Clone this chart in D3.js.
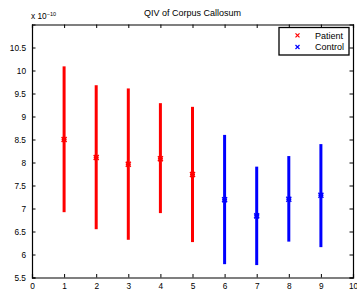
<!DOCTYPE html>
<html>
<head>
<meta charset="utf-8">
<script src="https://cdn.jsdelivr.net/npm/d3@7"></script>
<style>
  body { margin: 0; background: #fff; }
  text { font-family: "Liberation Sans", Arial, sans-serif; }
</style>
</head>
<body>
<div id="chart"></div>
<script>
// values (units of 1e-10)
const patientX = [1, 2, 3, 4, 5];
const patientMean = [8.5, 8.11, 7.96, 8.08, 7.74];
const patientLow = [6.92, 6.55, 6.32, 6.9, 6.27];
const patientHigh = [10.09, 9.68, 9.61, 9.29, 9.21];

const controlX = [6, 7, 8, 9];
const controlMean = [7.19, 6.84, 7.2, 7.29];
const controlLow = [5.79, 5.77, 6.28, 6.16];
const controlHigh = [8.6, 7.91, 8.14, 8.4];

const xTicks = [0, 1, 2, 3, 4, 5, 6, 7, 8, 9, 10];
const yTicks = [5.5, 6, 6.5, 7, 7.5, 8, 8.5, 9, 9.5, 10, 10.5];

const W = 357, H = 294;
const margin = { top: 24.5, right: 4, bottom: 16.5, left: 32 };
const width = W - margin.left - margin.right;
const height = H - margin.top - margin.bottom;

const svg = d3.select('#chart')
    .append('svg')
    .attr('width', W)
    .attr('height', H);

const g = svg.append('g')
    .attr('transform', `translate(${margin.left}, ${margin.top})`);

const xScale = d3.scaleLinear().domain([0, 10]).range([0, width]);
const yScale = d3.scaleLinear().domain([5.5, 11]).range([height, 0]);

// axes (matlab style: ticks inside, on all four sides)
const tick = 3.5;
g.append('g')
    .attr('transform', `translate(0, ${height})`)
    .call(d3.axisBottom(xScale).tickValues(xTicks).tickSize(-tick).tickPadding(6).tickFormat(d3.format('d')));
g.append('g')
    .call(d3.axisTop(xScale).tickValues(xTicks).tickSize(-tick).tickFormat(''));
g.append('g')
    .call(d3.axisLeft(yScale).tickValues(yTicks).tickSize(-tick).tickPadding(6).tickFormat(d => d));
g.append('g')
    .attr('transform', `translate(${width}, 0)`)
    .call(d3.axisRight(yScale).tickValues(yTicks).tickSize(-tick).tickFormat(''));

g.selectAll('.domain').attr('stroke', '#000').attr('stroke-width', 1.2);
g.selectAll('.tick line').attr('stroke', '#000');
g.selectAll('.tick text').attr('font-size', '8.3px').attr('fill', '#000')
    .style('font-family', '"Liberation Sans", Arial, sans-serif');

const drawSeries = (xs, means, lows, highs, color) => {
    const rows = xs.map((x, i) => ({ x, m: means[i], lo: lows[i], hi: highs[i] }));
    g.selectAll(null)
        .data(rows)
        .enter()
        .append('line')
        .attr('x1', d => xScale(d.x))
        .attr('x2', d => xScale(d.x))
        .attr('y1', d => yScale(d.lo))
        .attr('y2', d => yScale(d.hi))
        .attr('stroke', color)
        .attr('stroke-width', 3);

    const s = 2.5;
    g.selectAll(null)
        .data(rows)
        .enter()
        .append('path')
        .attr('d', d => {
            const cx = xScale(d.x), cy = yScale(d.m);
            return `M${cx - s},${cy - s}L${cx + s},${cy + s}M${cx - s},${cy + s}L${cx + s},${cy - s}` +
                `M${cx - s},${cy}L${cx + s},${cy}`;
        })
        .attr('stroke', color)
        .attr('stroke-width', 1.5)
        .attr('fill', 'none');
};

drawSeries(patientX, patientMean, patientLow, patientHigh, '#ff0000');
drawSeries(controlX, controlMean, controlLow, controlHigh, '#0000ff');

// title and exponent
svg.append('text')
    .attr('x', margin.left + width / 2)
    .attr('y', 16)
    .attr('text-anchor', 'middle')
    .attr('font-size', '9px')
    .text('QIV of Corpus Callosum');

const expo = svg.append('text')
    .attr('x', 31)
    .attr('y', 19)
    .attr('font-size', '8.3px');
expo.append('tspan').text('x 10');
expo.append('tspan').attr('dy', -3).attr('font-size', '5.5px').text('−10');

// legend
const legend = svg.append('g').attr('transform', 'translate(279, 27.5)');
legend.append('rect')
    .attr('width', 70)
    .attr('height', 27.5)
    .attr('fill', '#fff')
    .attr('stroke', '#000')
    .attr('stroke-width', 1.3);

const legendItems = [
    { label: 'Patient', color: '#ff0000' },
    { label: 'Control', color: '#0000ff' }
];
legendItems.forEach((d, i) => {
    const cy = 7.8 + i * 11.7;
    const cx = 18.5, s = 2;
    legend.append('path')
        .attr('d', `M${cx - s},${cy - s}L${cx + s},${cy + s}M${cx - s},${cy + s}L${cx + s},${cy - s}`)
        .attr('stroke', d.color)
        .attr('stroke-width', 1.2);
    legend.append('text')
        .attr('x', 36)
        .attr('y', cy + 3.2)
        .attr('font-size', '9px')
        .text(d.label);
});
</script>
</body>
</html>
